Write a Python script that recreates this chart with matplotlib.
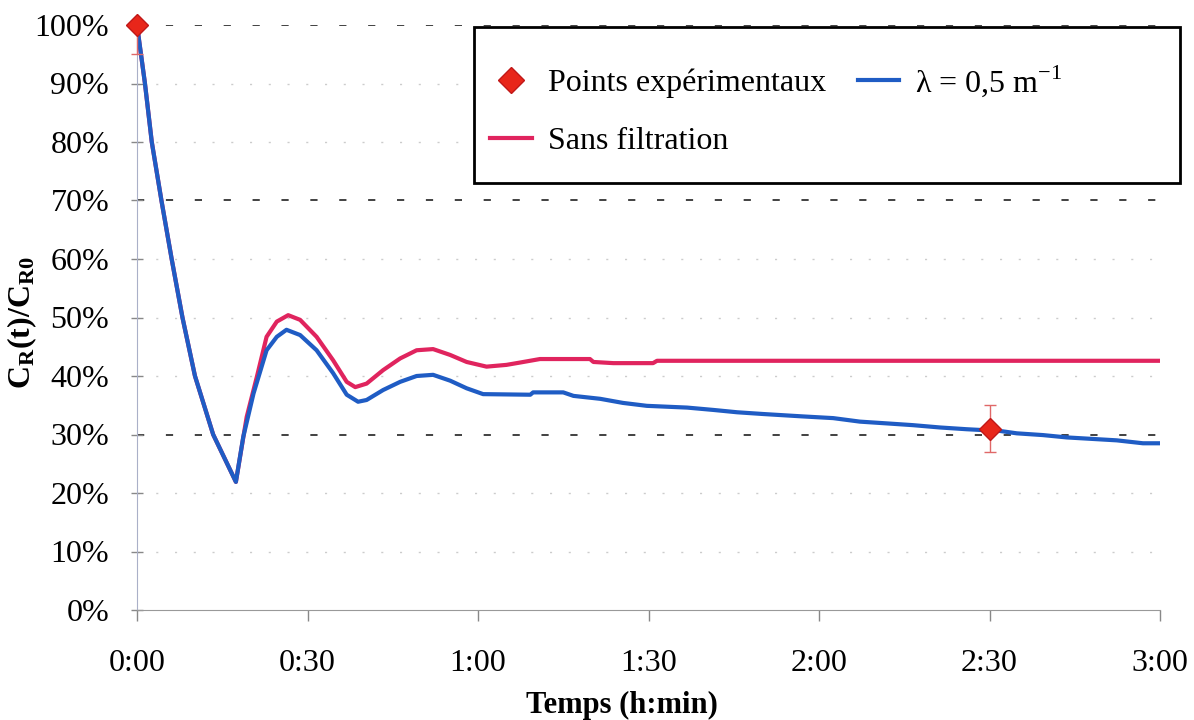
import matplotlib
matplotlib.use('Agg')
import matplotlib.pyplot as plt
from matplotlib.patches import Rectangle
from matplotlib.lines import Line2D

plt.rcParams['font.family'] = ['Liberation Serif', 'DejaVu Serif']
plt.rcParams['mathtext.fontset'] = 'custom'
plt.rcParams['mathtext.rm'] = 'Liberation Serif'
plt.rcParams['mathtext.bf'] = 'Liberation Serif:bold'

# time in minutes, concentration ratio in %
t_lambda = [0, 1.4, 2.6, 4.3, 6.1, 8.0, 10.2, 13.4, 17.4, 18.7, 20.5, 22.8, 24.6, 26.3,
            28.7, 31.6, 34.5, 36.9, 38.9, 40.4, 43.3, 46.3, 49.2, 52.1, 55.1, 58.0,
            60.9, 69.2, 69.7, 75.0, 76.8, 81.5, 85.5, 89.7, 96.8, 101.4, 105.6, 110.2,
            117.0, 122.5, 127.2, 131.9, 136.5, 141.3, 146.0, 151.9, 154.8, 159.4, 163.6,
            172.4, 177.0, 180.0]
c_lambda = [100, 90, 80, 70, 60, 50, 40, 30, 21.9, 29.6, 37.0, 44.4, 46.7, 47.9,
            47.0, 44.4, 40.5, 36.8, 35.6, 35.9, 37.6, 39.0, 40.0, 40.2, 39.2, 37.9,
            36.9, 36.8, 37.2, 37.2, 36.6, 36.1, 35.4, 34.9, 34.6, 34.2, 33.8, 33.5,
            33.1, 32.8, 32.2, 31.9, 31.6, 31.2, 30.9, 30.6, 30.2, 29.9, 29.5,
            29.0, 28.5, 28.5]

t_sans = [0, 1.4, 2.6, 4.3, 6.1, 8.0, 10.2, 13.4, 17.4, 19.3, 21.1, 22.8, 24.6, 26.6,
          28.7, 31.6, 34.5, 36.9, 38.4, 40.4, 43.3, 46.3, 49.2, 52.1, 55.1, 58.0,
          61.5, 65.0, 67.4, 70.9, 79.7, 80.3, 83.8, 90.8, 91.5, 180.0]
c_sans = [100, 90, 80, 70, 60, 50, 40, 30, 21.9, 33.0, 39.9, 46.7, 49.3, 50.4,
          49.6, 46.7, 42.7, 39.0, 38.1, 38.7, 41.0, 43.0, 44.4, 44.6, 43.6, 42.4,
          41.6, 41.9, 42.3, 42.9, 42.9, 42.4, 42.2, 42.2, 42.6, 42.6]

t_exp = [0, 150]
c_exp = [100, 31]
err_low = [5, 4]
err_high = [0, 4]

x_ticks = [0, 30, 60, 90, 120, 150, 180]
x_labels = ['0:00', '0:30', '1:00', '1:30', '2:00', '2:30', '3:00']
y_ticks = [0, 10, 20, 30, 40, 50, 60, 70, 80, 90, 100]

blue = '#1f5cc4'
pink = '#e0245e'
red = '#e8261a'

fig = plt.figure(figsize=(11.94, 7.2), dpi=100)
ax = fig.add_axes([137 / 1194, 1 - 610 / 720, 1023 / 1194, 585 / 720])

# grid: light dotted lines, darker dashes at 30, 70, 100
for y in y_ticks[1:]:
    if y in (30, 70, 100):
        ax.axhline(y, color='#333333', lw=1.3, ls=(0, (4, 12)), zorder=1)
    else:
        ax.axhline(y, color='#cccccc', lw=1.0, ls=(0, (1.5, 12)), zorder=1)

ax.plot(t_sans, c_sans, color=pink, lw=3, zorder=3, label='Sans filtration')
ax.plot(t_lambda, c_lambda, color=blue, lw=3, zorder=4, label='λ = 0,5 m$^{-1}$')
ax.errorbar(t_exp, c_exp, yerr=[err_low, err_high], fmt='none', ecolor='#e06868',
            elinewidth=1, capsize=4.5, capthick=1, zorder=5, clip_on=False)
ax.plot(t_exp, c_exp, ls='none', marker='D', ms=11, color=red, mec='#c01818',
        zorder=6, clip_on=False, label='Points expérimentaux')

ax.set_xlim(0, 180)
ax.set_ylim(0, 100)
ax.set_xticks(x_ticks)
ax.set_xticklabels(x_labels)
ax.set_yticks(y_ticks)
ax.set_yticklabels([f'{y}%' for y in y_ticks])
ax.tick_params(axis='x', labelsize=23, direction='out', length=8, width=1,
               color='#888888', pad=20)
ax.tick_params(axis='y', labelsize=23, direction='inout', length=8, width=1,
               color='#888888', pad=16)

for s in ['top', 'right']:
    ax.spines[s].set_visible(False)
ax.spines['left'].set_color('#aab0c8')
ax.spines['bottom'].set_color('#999999')

ax.set_xlabel('Temps (h:min)', fontsize=22, fontweight='bold')
ax.xaxis.set_label_coords(0.474, -0.138)
fig.text(22 / 1194, 1 - 322 / 720, r'$\mathbf{C_{R}(t)/C_{R0}}$', rotation=90,
         ha='center', va='center', fontsize=23)

# legend box
fig.patches.append(Rectangle((474 / 1194, 1 - 183 / 720), 706 / 1194, 156 / 720,
                             transform=fig.transFigure, fill=True, fc='white',
                             ec='black', lw=2, zorder=10))
handles = [
    Line2D([], [], ls='none', marker='D', ms=13, color=red, mec='#c01818'),
    Line2D([], [], color=pink, lw=3),
    Line2D([], [], color=blue, lw=3),
]
labels = ['Points expérimentaux', 'Sans filtration', 'λ = 0,5 m$^{-1}$']
leg = fig.legend(handles, labels, loc='upper left', ncol=2,
                 bbox_to_anchor=(490 / 1194, 1 - 63 / 720), frameon=False,
                 fontsize=23, handlelength=1.3, handletextpad=0.5,
                 columnspacing=1.0, labelspacing=0.88, borderpad=0, borderaxespad=0)
leg.set_zorder(11)

fig.savefig('out.png', dpi=100)
